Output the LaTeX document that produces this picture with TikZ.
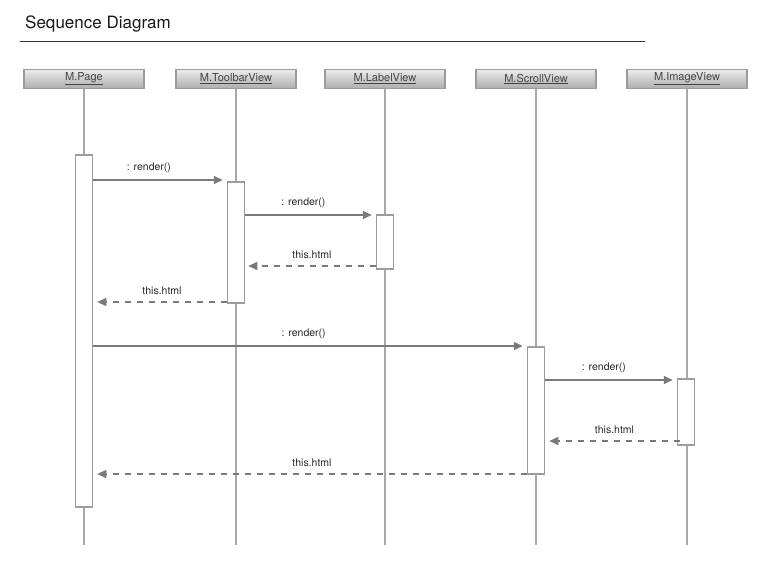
\documentclass[tikz,border=0pt]{standalone}
\usepackage{fontspec}
\setmainfont{TeX Gyre Heros}
\usetikzlibrary{arrows.meta,calc}
\definecolor{linegray}{HTML}{A8A8A8}
\definecolor{arrgray}{HTML}{7A7A7A}
\definecolor{boxgray}{HTML}{9C9C9C}
\definecolor{txtgray}{HTML}{444444}
\tikzset{
  head/.style={draw=boxgray, line width=1.2pt, top color=gray!15, bottom color=gray!65,
    minimum width=120pt, minimum height=19pt, inner sep=0pt,
    font=\fontsize{11}{12}\selectfont, text=txtgray},
  life/.style={draw=linegray, line width=1.5pt},
  act/.style={draw=boxgray, fill=white, line width=1.5pt, minimum width=17pt, inner sep=0pt},
  call/.style={draw=arrgray, line width=1.5pt, -{Triangle[length=9pt,width=8pt]}},
  ret/.style={draw=arrgray, line width=1.5pt, dash pattern=on 6pt off 6pt, -{Triangle[length=9pt,width=8pt]}},
  lbl/.style={font=\fontsize{10.5}{12}\selectfont, text=black!85, inner sep=1pt}
}
\begin{document}
\begin{tikzpicture}[x=1pt,y=-1pt]
\useasboundingbox (0,0) rectangle (766,563);
% title
\node[anchor=base west, font=\fontsize{17}{19}\selectfont, text=black!90, inner sep=0pt] (title) at (25,28) {Sequence Diagram};
\coordinate (tl) at (20,41);
\coordinate (tr) at (645,41);
\draw[line width=0.8pt, black!80] (tl) -- (tr);
% heads
\node[head] (h1) at (84,79) {\underline{M.Page}};
\node[head] (h2) at (236,79) {\underline{M.ToolbarView}};
\node[head] (h3) at (385,79) {\underline{M.LabelView}};
\node[head] (h4) at (536,79) {\underline{M.ScrollView}};
\node[head] (h5) at (687,79) {\underline{M.ImageView}};
% bottoms
\coordinate (b1) at (84,545);
\coordinate (b2) at (236,545);
\coordinate (b3) at (385,545);
\coordinate (b4) at (536,545);
\coordinate (b5) at (687,545);
\foreach \i in {1,...,5} \draw[life] (h\i.south) -- (b\i);
% activations
\node[act, minimum height=352pt] (a1) at (84,331) {};
\node[act, minimum height=121pt] (a2) at (236,242.5) {};
\node[act, minimum height=54pt] (a3) at (385,242) {};
\node[act, minimum height=127pt] (a4) at (536,410.5) {};
\node[act, minimum height=66pt] (a5) at (686,412) {};
% messages
\draw[call] (a1.east |- 0,180) -- ($(a2.west |- 0,180)+(-4,0)$) node[lbl, pos=0.43, above=6pt] {: render()};
\draw[call] (a2.east |- 0,215) -- ($(a3.west |- 0,215)+(-4,0)$) node[lbl, pos=0.46, above=6pt] {: render()};
\draw[ret] (a3.west |- 0,266) -- ($(a2.east |- 0,266)+(3,0)$) node[lbl, midway, above=6pt] {this.html};
\draw[ret] (a2.west |- 0,302) -- ($(a1.east |- 0,302)+(4,0)$) node[lbl, midway, above=6pt] {this.html};
\draw[call] (a1.east |- 0,346) -- ($(a4.west |- 0,346)+(-4,0)$) node[lbl, pos=0.49, above=6pt] {: render()};
\draw[call] (a4.east |- 0,380) -- ($(a5.west |- 0,380)+(-4,0)$) node[lbl, pos=0.46, above=6pt] {: render()};
\draw[ret] ($(a5.west |- 0,441)+(3,0)$) -- ($(a4.east |- 0,441)+(4,0)$) node[lbl, midway, above=6pt] {this.html};
\draw[ret] (a4.west |- 0,474) -- ($(a1.east |- 0,474)+(4,0)$) node[lbl, midway, above=6pt] {this.html};
\end{tikzpicture}
\end{document}
